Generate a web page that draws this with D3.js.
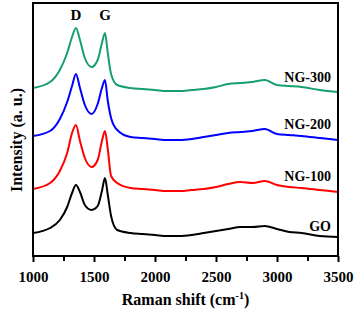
<!DOCTYPE html>
<html>
<head>
<meta charset="utf-8">
<script src="https://cdn.jsdelivr.net/npm/d3@7"></script>
<style>
  body { margin: 0; background: #fff; }
  svg text { font-family: "Liberation Serif", "DejaVu Serif", serif; font-weight: bold; fill: #000; }
</style>
</head>
<body>
<script>
// Raman shift sample points (cm-1)
const shift = [1000, 1140, 1220, 1280, 1320, 1352, 1385, 1425, 1480, 1530, 1565, 1590, 1612, 1640, 1690,
  1800, 1900, 2000, 2100, 2200, 2300, 2400, 2500, 2600, 2700, 2800, 2900, 3000, 3100, 3200, 3350, 3500];

// intensities (a. u., curves are stacked with offsets)
const go = [23, 28, 36, 49, 63, 71, 64, 51, 46, 50, 65, 78, 62, 40, 26,
  23, 22, 21, 20, 20, 21, 23, 25, 27, 29, 29, 30, 27, 24, 23, 20, 19];
const ng100 = [67, 73, 85, 103, 123, 131, 115, 98, 89, 96, 115, 125, 108, 80, 73,
  68, 67, 66, 65, 65, 66, 67, 69, 72, 74, 73, 75, 71, 69, 68, 66, 64];
const ng200 = [120, 125, 137, 154, 170, 182, 168, 151, 142, 152, 168, 176, 156, 138, 126,
  119, 118, 117, 116, 116, 117, 119, 121, 123, 124, 125, 127, 122, 121, 120, 118, 116];
const ng300 = [168, 174, 186, 203, 219, 228, 216, 198, 189, 196, 213, 223, 204, 182, 171,
  168, 167, 166, 165, 165, 166, 167, 169, 172, 173, 174, 176, 171, 170, 169, 166, 164];

const seriesNames = ['GO', 'NG-100', 'NG-200', 'NG-300'];
const seriesColors = ['#000000', '#ff0000', '#0000ff', '#17a06c'];
const seriesValues = [go, ng100, ng200, ng300];
const labelY = [25, 75, 127, 174];

const peakNames = ['D', 'G'];
const peakPos = [1352, 1590];

const xTicks = [1000, 1500, 2000, 2500, 3000, 3500];
const xMinor = [1250, 1750, 2250, 2750, 3250];

const W = 354, H = 310;
const margin = { top: 3, right: 16, bottom: 54, left: 33 };
const width = W - margin.left - margin.right;
const height = H - margin.top - margin.bottom;

const svg = d3.select('body').append('svg')
  .attr('width', W)
  .attr('height', H);

const g = svg.append('g')
  .attr('transform', `translate(${margin.left},${margin.top})`);

const x = d3.scaleLinear().domain([1000, 3500]).range([0, width]);
const y = d3.scaleLinear().domain([0, height]).range([height, 0]);

const line = d3.line()
  .x((d) => x(d[0]))
  .y((d) => y(d[1]))
  .curve(d3.curveMonotoneX);

// spectra
seriesValues.forEach((vals, i) => {
  g.append('path')
    .datum(shift.map((s, j) => [s, vals[j]]))
    .attr('fill', 'none')
    .attr('stroke', seriesColors[i])
    .attr('stroke-width', 2)
    .attr('d', line);

  g.append('text')
    .attr('x', width - 7)
    .attr('y', y(labelY[i]))
    .attr('text-anchor', 'end')
    .attr('font-size', 14)
    .text(seriesNames[i]);
});

// peak labels
peakNames.forEach((p, i) => {
  g.append('text')
    .attr('x', x(peakPos[i]))
    .attr('y', 17)
    .attr('text-anchor', 'middle')
    .attr('font-size', 15)
    .text(p);
});

// x axis with minor ticks
const xAxis = g.append('g')
  .attr('transform', `translate(0,${height})`)
  .call(d3.axisBottom(x).tickValues(xTicks).tickSize(6).tickPadding(9).tickFormat(d3.format('d')))
  .attr('font-family', null)
  .attr('font-size', null);
xAxis.selectAll('text').attr('font-size', 15);
xAxis.selectAll('line').attr('stroke-width', 2);
xAxis.select('.domain').remove();

g.append('g')
  .attr('transform', `translate(0,${height})`)
  .call(d3.axisBottom(x).tickValues(xMinor).tickSize(5).tickFormat(''))
  .call((a) => a.select('.domain').remove())
  .selectAll('line').attr('stroke-width', 2);

// frame
g.append('rect')
  .attr('width', width)
  .attr('height', height)
  .attr('fill', 'none')
  .attr('stroke', '#000')
  .attr('stroke-width', 2);

// axis titles
const xt = svg.append('text')
  .attr('x', margin.left + width / 2)
  .attr('y', 305)
  .attr('text-anchor', 'middle')
  .attr('font-size', 16)
  .text('Raman shift (cm');
xt.append('tspan').attr('dy', -6).attr('font-size', 10).text('-1');
xt.append('tspan').attr('dy', 6).text(')');

svg.append('text')
  .attr('transform', 'translate(22,140) rotate(-90)')
  .attr('text-anchor', 'middle')
  .attr('font-size', 16)
  .text('Intensity (a. u.)');
</script>
</body>
</html>
